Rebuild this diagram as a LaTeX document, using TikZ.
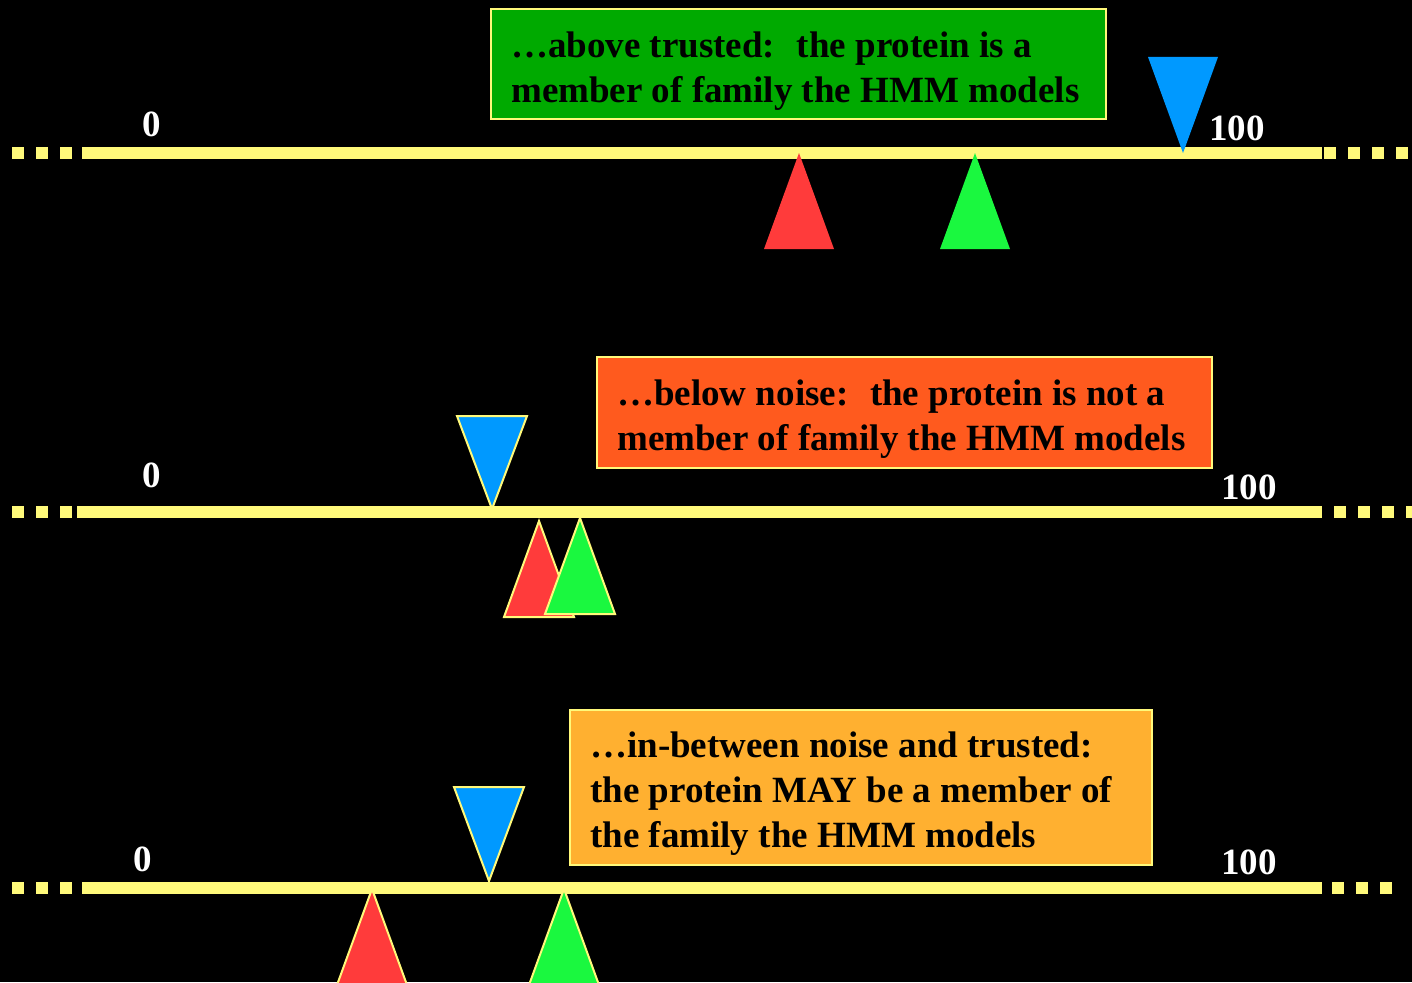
\documentclass[tikz,border=0pt]{standalone}
\usepackage{fontspec}
\setmainfont{Liberation Serif}
\usetikzlibrary{calc}
\definecolor{scaleyellow}{HTML}{FFF97A}
\definecolor{trustgreen}{HTML}{00AA00}
\definecolor{noisered}{HTML}{FF5A1E}
\definecolor{betweenorange}{HTML}{FFB030}
\definecolor{seqblue}{HTML}{0099FF}
\definecolor{noisemark}{HTML}{FF3B3B}
\definecolor{trustmark}{HTML}{1AF83F}
\tikzstyle{scaleline}=[line width=12pt,scaleyellow]
\tikzstyle{scaledots}=[scaleline,dash pattern=on 12pt off 12pt]
\tikzstyle{verdict}=[draw=scaleyellow,line width=2pt,inner sep=0pt,outer sep=0pt,anchor=north west]
\tikzstyle{verdicttext}=[inner sep=0pt,anchor=north west,align=left,font=\fontsize{37}{45}\selectfont\bfseries]
\tikzstyle{score}=[white,anchor=base,inner sep=0pt,font=\fontsize{37}{45}\selectfont\bfseries]
\tikzstyle{outlined}=[draw=scaleyellow,line width=2pt,line join=miter]

\begin{document}
\begin{tikzpicture}[x=1pt,y=-1pt]
            \useasboundingbox (0,0) rectangle (1412,982);
            \clip (0,0) rectangle (1412,982);
            \fill[black] (0,0) rectangle (1412,982);
            \def\tw{35}
            \def\th{96}
            % scale 1: above trusted
            \coordinate (A0) at (12,153);
            \coordinate (A1) at (82,153);
            \coordinate (A2) at (1322,153);
            \coordinate (A3) at (1409,153);
            \draw[scaledots] (A0) -- ($(A1)+(-10,0)$);
            \draw[scaleline] (A1) -- (A2);
            \draw[scaledots] ($(A2)+(2,0)$) -- (A3);
            \fill[noisemark] (799,153) -- ++(-\tw,\th) -- ++(2*\tw,0) -- cycle;
            \fill[trustmark] (975,153) -- ++(-\tw,\th) -- ++(2*\tw,0) -- cycle;
            \fill[seqblue] (1183,153) -- ++(-\tw,-\th) -- ++(2*\tw,0) -- cycle;
            \node[verdict,fill=trustgreen,minimum width=615pt,minimum height=110pt] (above) at (491,9) {};
            \node[verdicttext] (abovetext) at ($(above.north west)+(20,23)$)
                {…above trusted:~ the protein is a\\member of family the HMM models};
            \node[score] (zeroA) at (152,136) {0};
            \node[score] (hundredA) at (1237,140) {100};
            % scale 2: below noise
            \coordinate (B0) at (12,511.5);
            \coordinate (B1) at (77,511.5);
            \coordinate (B2) at (1322,511.5);
            \coordinate (B3) at (1412,511.5);
            \draw[scaledots] (B0) -- ($(B1)+(-5,0)$);
            \draw[scaleline] (B1) -- (B2);
            \draw[scaledots] ($(B2)+(12,0)$) -- (B3);
            \filldraw[outlined,fill=noisemark] (539,521) -- ++(-\tw,\th) -- ++(2*\tw,0) -- cycle;
            \filldraw[outlined,fill=trustmark] (580,518) -- ++(-\tw,\th) -- ++(2*\tw,0) -- cycle;
            \filldraw[outlined,fill=seqblue] (492,509) -- ++(-\tw,-93) -- ++(2*\tw,0) -- cycle;
            \node[verdict,fill=noisered,minimum width=615pt,minimum height=111pt] (below) at (597,357) {};
            \node[verdicttext] (belowtext) at ($(below.north west)+(20,23)$)
                {…below noise:~ the protein is not a\\member of family the HMM models};
            \node[score] (zeroB) at (152,487) {0};
            \node[score] (hundredB) at (1249,499) {100};
            % scale 3: in-between
            \coordinate (C0) at (12,887.5);
            \coordinate (C1) at (82,887.5);
            \coordinate (C2) at (1322,887.5);
            \coordinate (C3) at (1392,887.5);
            \draw[scaledots] (C0) -- ($(C1)+(-10,0)$);
            \draw[scaleline] (C1) -- (C2);
            \draw[scaledots] ($(C2)+(10,0)$) -- (C3);
            \filldraw[outlined,fill=noisemark] (372,889) -- ++(-\tw,\th) -- ++(2*\tw,0) -- cycle;
            \filldraw[outlined,fill=trustmark] (564,889) -- ++(-\tw,\th) -- ++(2*\tw,0) -- cycle;
            \filldraw[outlined,fill=seqblue] (489,881) -- ++(-\tw,-94) -- ++(2*\tw,0) -- cycle;
            \node[verdict,fill=betweenorange,minimum width=582pt,minimum height=155pt] (between) at (570,710) {};
            \node[verdicttext] (betweentext) at ($(between.north west)+(20,22)$)
                {…in-between noise and trusted:\\the protein MAY be a member of\\the family the HMM models};
            \node[score] (zeroC) at (143,871) {0};
            \node[score] (hundredC) at (1249,874) {100};
\end{tikzpicture}
\end{document}
